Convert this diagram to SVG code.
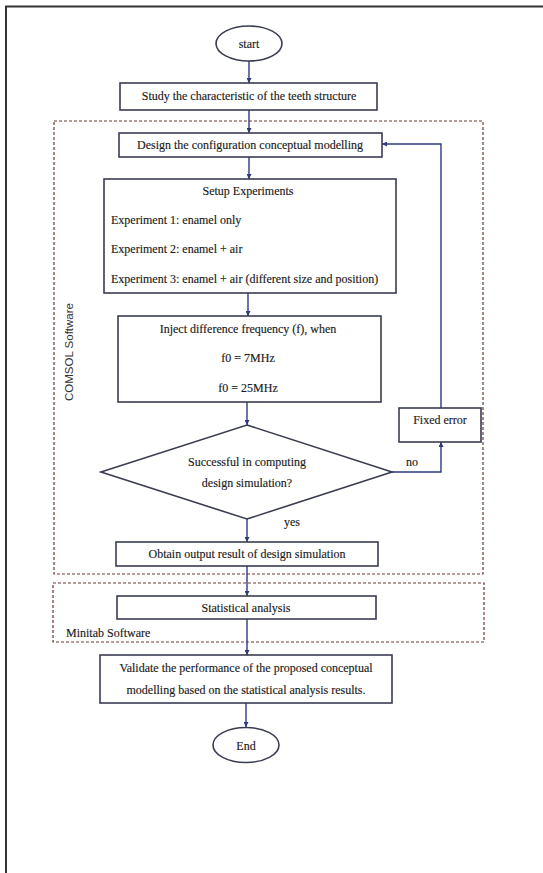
<svg xmlns="http://www.w3.org/2000/svg" width="543" height="873" viewBox="0 0 543 873">
<style>
.bx{fill:#fff;stroke:#3a3d52;stroke-width:1.6}
.t{font-family:"Liberation Serif","Times New Roman",serif;font-size:12px;fill:#1a1a1a;stroke:#1a1a1a;stroke-width:0.15}
.c{text-anchor:middle}
.ln{fill:none;stroke:#2e3a7a;stroke-width:1.4}
.grp{fill:none;stroke:#6e3838;stroke-width:1.2;stroke-dasharray:3,2}
.s{font-family:"Liberation Sans",Arial,sans-serif;font-size:11.5px;fill:#333}
</style>
<defs>
<marker id="ah" viewBox="0 0 6 6" refX="6" refY="3" markerWidth="5" markerHeight="5" orient="auto" markerUnits="userSpaceOnUse">
<path d="M0,0 L6,3 L0,6 z" fill="#2e3a7a"/>
</marker>
</defs>
<rect width="543" height="873" fill="#fff"/>
<path d="M6,873 V6.5 H543" fill="none" stroke="#333" stroke-width="2"/>

<g id="group-comsol">
<rect class="grp" x="54" y="121" width="429" height="453"/>
<text class="s c" transform="translate(73,352) rotate(-90)">COMSOL Software</text>
</g>
<g id="group-minitab">
<rect class="grp" x="53" y="583" width="431" height="59"/>
<text class="t" x="66" y="637">Minitab Software</text>
</g>

<g id="connectors">
<line class="ln" x1="249" y1="61" x2="249" y2="83" marker-end="url(#ah)"/>
<line class="ln" x1="249" y1="110" x2="249" y2="133" marker-end="url(#ah)"/>
<line class="ln" x1="249" y1="157" x2="249" y2="179" marker-end="url(#ah)"/>
<line class="ln" x1="248" y1="293" x2="248" y2="316" marker-end="url(#ah)"/>
<line class="ln" x1="247" y1="402" x2="247" y2="425" marker-end="url(#ah)"/>
<line class="ln" x1="247" y1="519" x2="247" y2="542" marker-end="url(#ah)"/>
<line class="ln" x1="247" y1="566" x2="247" y2="596" marker-end="url(#ah)"/>
<line class="ln" x1="247" y1="619" x2="247" y2="655" marker-end="url(#ah)"/>
<line class="ln" x1="246" y1="703" x2="246" y2="727" marker-end="url(#ah)"/>
<polyline class="ln" points="392,472 441,472 441,442" marker-end="url(#ah)"/>
<polyline class="ln" points="441,408 441,144 382,144" marker-end="url(#ah)"/>
<text class="t" x="406" y="466">no</text>
<text class="t" x="284" y="526">yes</text>
</g>

<g id="start">
<ellipse class="bx" cx="249" cy="43.5" rx="33" ry="17.5"/>
<text class="t c" x="249" y="47.5">start</text>
</g>
<g id="study">
<rect class="bx" x="120" y="83" width="257" height="27"/>
<text class="t c" x="249" y="100">Study the characteristic of the teeth structure</text>
</g>
<g id="design">
<rect class="bx" x="119" y="133" width="263" height="24"/>
<text class="t c" x="250" y="148.5">Design the configuration conceptual modelling</text>
</g>
<g id="setup">
<rect class="bx" x="104" y="179" width="292" height="114"/>
<text class="t c" x="248" y="194.5">Setup Experiments</text>
<text class="t" x="111" y="223.5">Experiment 1: enamel only</text>
<text class="t" x="111" y="252.5">Experiment 2: enamel + air</text>
<text class="t" x="111" y="282.5">Experiment 3: enamel + air (different size and position)</text>
</g>
<g id="inject">
<rect class="bx" x="118" y="316" width="263" height="86"/>
<text class="t c" x="248" y="332.5">Inject difference frequency (f), when</text>
<text class="t c" x="248" y="362">f0 = 7MHz</text>
<text class="t c" x="248" y="391.5">f0 = 25MHz</text>
</g>
<g id="decision">
<polygon class="bx" points="247,425 392,472 247,519 101,472"/>
<text class="t c" x="247" y="465.5">Successful in computing</text>
<text class="t c" x="247" y="486.5">design simulation?</text>
</g>
<g id="fixed">
<rect class="bx" x="399" y="408" width="82" height="34"/>
<text class="t c" x="440" y="423.5">Fixed error</text>
</g>
<g id="obtain">
<rect class="bx" x="116" y="542" width="262" height="24"/>
<text class="t c" x="247" y="557.5">Obtain output result of design simulation</text>
</g>
<g id="statistical">
<rect class="bx" x="117" y="596" width="259" height="23"/>
<text class="t c" x="246" y="611.5">Statistical analysis</text>
</g>
<g id="validate">
<rect class="bx" x="100" y="655" width="292" height="48"/>
<text class="t c" x="246" y="671.5">Validate the performance of the proposed conceptual</text>
<text class="t c" x="246" y="693.5">modelling based on the statistical analysis results.</text>
</g>
<g id="end">
<ellipse class="bx" cx="246" cy="745" rx="33" ry="17.5"/>
<text class="t c" x="246" y="749.5">End</text>
</g>
</svg>
